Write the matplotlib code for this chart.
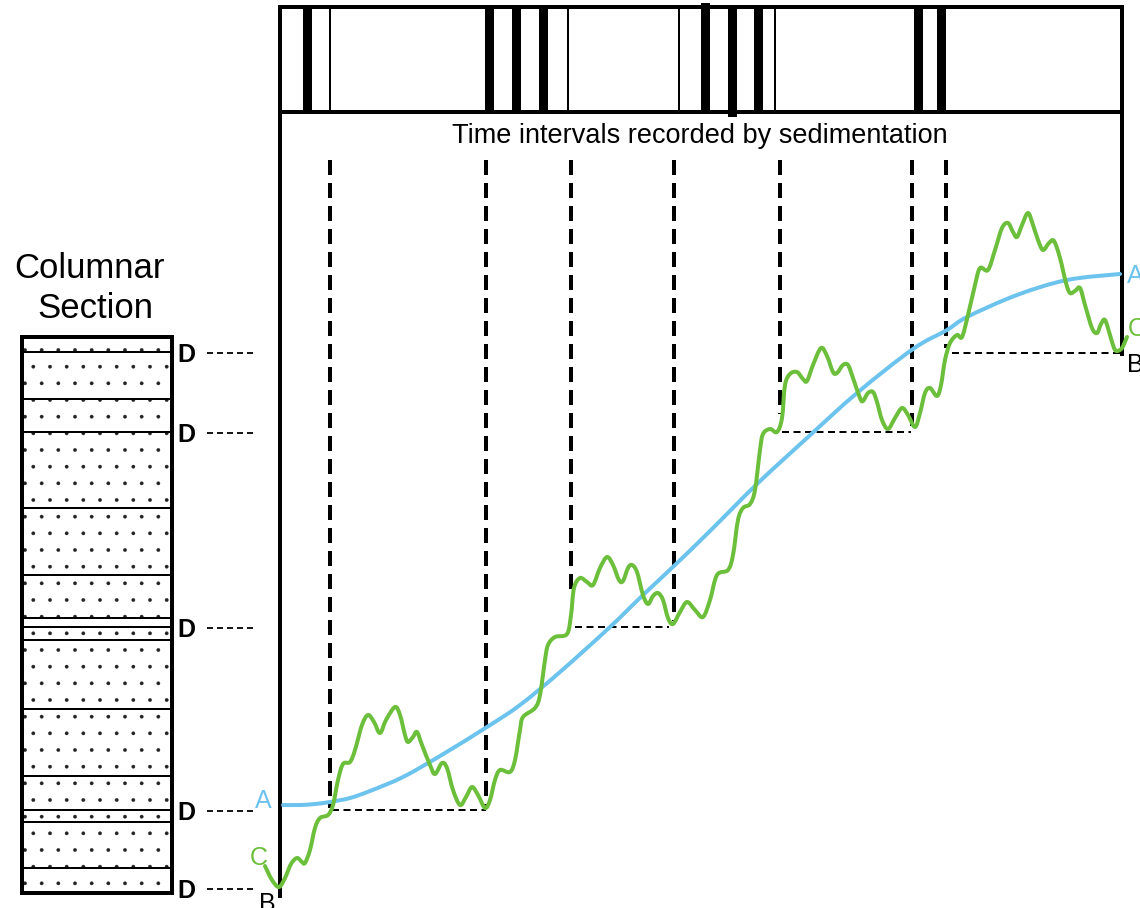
import matplotlib
matplotlib.use("Agg")
import matplotlib.pyplot as plt
from matplotlib.patches import Rectangle, PathPatch
from matplotlib.path import Path

plt.rcParams['font.family'] = ['Liberation Sans', 'DejaVu Sans']
plt.rcParams['hatch.linewidth'] = 0.25

# everything below is in picture pixels (x right, y down)
W, H = 1140, 908
PX = 0.72  # points per pixel at dpi 100

# smooth trend (A) and oscillating record (C)
blue_x = [283, 300, 315, 330, 350, 370, 403, 440, 487, 520, 560, 610, 643,
          675, 710, 757, 807, 857, 913, 947, 967, 1017, 1067, 1120]
blue_y = [805, 805, 804, 802, 798, 791, 777, 756, 727, 705, 672, 627, 595,
          565, 531, 484, 438, 393, 349, 330, 317, 295, 280, 274]

green_x = [265, 272, 279, 285, 291, 297, 302, 305, 310, 315, 320, 328, 333, 338,
           343, 350, 355, 362, 368, 374, 380, 386, 395, 400, 405, 408, 413, 417,
           422, 430, 435, 442, 447, 453, 460, 466, 472, 478, 485, 490, 495, 500,
           510, 515, 520, 523, 535, 540, 545, 548, 555, 567, 571, 574, 580, 587,
           593, 600, 607, 613, 619, 623, 628, 632, 637, 643, 648, 653, 658, 663,
           668, 673, 680, 687, 695, 703, 710, 717, 728, 733, 738, 743, 750, 755,
           760, 763, 770, 777, 782, 785, 790, 797, 803, 807, 813, 821, 827, 833,
           837, 843, 848, 853, 860, 863, 868, 873, 877, 882, 888, 895, 902, 908,
           915, 920, 925, 930, 937, 941, 945, 950, 957, 962, 968, 975, 980, 988,
           995, 1002, 1008, 1013, 1017, 1022, 1028, 1033, 1038, 1043, 1049, 1054,
           1060, 1066, 1070, 1075, 1080, 1085, 1092, 1097, 1101, 1105, 1110, 1114,
           1117, 1122, 1127]
green_y = [866, 880, 887, 878, 864, 858, 862, 863, 850, 828, 818, 815, 805, 780,
           764, 762, 750, 725, 715, 722, 733, 720, 707, 715, 735, 742, 737, 732,
           745, 765, 774, 763, 768, 790, 805, 797, 787, 795, 808, 800, 780, 770,
           772, 760, 730, 717, 708, 695, 660, 645, 637, 634, 615, 588, 578, 582,
           585, 568, 557, 565, 580, 581, 568, 565, 572, 595, 604, 596, 593, 600,
           618, 624, 612, 602, 610, 617, 600, 575, 570, 555, 520, 508, 504, 490,
           450, 434, 429, 432, 418, 385, 374, 372, 379, 381, 365, 348, 356, 372,
           373, 365, 365, 378, 398, 401, 393, 392, 402, 420, 429, 418, 408, 415,
           427, 413, 393, 388, 396, 385, 360, 343, 335, 337, 315, 285, 268, 270,
           250, 228, 223, 232, 237, 225, 213, 225, 240, 250, 243, 241,
           258, 283, 293, 291, 288, 305, 328, 333, 324, 320, 335, 348,
           351, 348, 337]

# time bars in the top strip
bar_x = [307, 330, 489, 516, 543, 568, 679, 705, 732, 758, 775, 918, 941]
bar_thick = [True, False, True, True, True, False, False, True, True, True,
             False, True, True]

# hiatus markers: vertical dashed drops and the flat gaps
drop_x = [330, 486, 571, 674, 780, 912, 946]
drop_bottom = [808, 808, 589, 621, 414, 426, 348]
gap_y = [810, 627, 432, 353]
gap_x0 = [332, 575, 782, 952]
gap_x1 = [486, 669, 911, 1122]

# columnar section
col_lines = [352, 399, 432, 508, 575, 618, 627, 640, 709, 776, 810, 822, 868]
d_levels = [353, 433, 628, 811, 889]

GREEN = '#6bbf3a'
BLUE = '#6cc3ee'


def dash(on_px, off_px, lw_px):
    return (0, (on_px / lw_px, off_px / lw_px))


def smooth_path(xs, ys):
    # bezier path through every point (catmull-rom tangents)
    pts = list(zip(xs, ys))
    verts = [pts[0]]
    codes = [Path.MOVETO]
    n = len(pts)
    for i in range(n - 1):
        p0 = pts[max(i - 1, 0)]
        p1 = pts[i]
        p2 = pts[i + 1]
        p3 = pts[min(i + 2, n - 1)]
        c1 = (p1[0] + (p2[0] - p0[0]) / 6, p1[1] + (p2[1] - p0[1]) / 6)
        c2 = (p2[0] - (p3[0] - p1[0]) / 6, p2[1] - (p3[1] - p1[1]) / 6)
        verts += [c1, c2, p2]
        codes += [Path.CURVE4] * 3
    return Path(verts, codes)


fig = plt.figure(figsize=(W / 100, H / 100), dpi=100)
ax = fig.add_axes([0, 0, 1, 1])
ax.set_xlim(0, W)
ax.set_ylim(H, 0)
ax.axis('off')

# top strip and frame
ax.add_patch(Rectangle((280, 7), 842, 105, fill=False, lw=4 * PX,
                       edgecolor='black', zorder=3))
ax.plot([280, 280], [7, 898], color='black', lw=4 * PX, solid_capstyle='butt')
ax.plot([1122, 1122], [7, 356], color='black', lw=4 * PX, solid_capstyle='butt')
for x, thick in zip(bar_x, bar_thick):
    w = 9 if thick else 2.2
    ax.add_patch(Rectangle((x - w / 2, 7), w, 105, facecolor='black',
                           edgecolor='none', zorder=3))
ax.add_patch(Rectangle((732 - 4.5, 105), 9, 12, facecolor='black',
                       edgecolor='none', zorder=3))
ax.add_patch(Rectangle((705 - 4.5, 3), 9, 6, facecolor='black',
                       edgecolor='none', zorder=3))

ax.text(700, 143, 'Time intervals recorded by sedimentation', fontsize=19.5,
        ha='center', va='baseline')

for x, yb in zip(drop_x, drop_bottom):
    ax.plot([x, x], [160, yb], color='black', lw=4 * PX,
            linestyle=dash(15, 8, 4), dash_capstyle='butt')
for y, x0, x1 in zip(gap_y, gap_x0, gap_x1):
    ax.plot([x0, x1], [y, y], color='black', lw=2 * PX,
            linestyle=dash(7, 4.5, 2), dash_capstyle='butt')

ax.add_patch(PathPatch(smooth_path(blue_x, blue_y), fill=False, edgecolor=BLUE,
                       lw=4 * PX, capstyle='round', joinstyle='round',
                       zorder=4))
ax.add_patch(PathPatch(smooth_path(green_x, green_y), fill=False,
                       edgecolor=GREEN, lw=4 * PX, capstyle='round',
                       joinstyle='round', zorder=5))

ax.text(255, 808, 'A', color=BLUE, fontsize=18, ha='left', va='baseline')
ax.text(250, 865, 'C', color=GREEN, fontsize=18, ha='left', va='baseline')
ax.text(259, 911, 'B', color='black', fontsize=18, ha='left', va='baseline')
ax.text(1127, 283, 'A', color=BLUE, fontsize=18, ha='left', va='baseline')
ax.text(1128, 336, 'C', color=GREEN, fontsize=18, ha='left', va='baseline')
ax.text(1127, 372, 'B', color='black', fontsize=18, ha='left', va='baseline')

# columnar section
ax.text(90, 278, 'Columnar', fontsize=25, ha='center', va='baseline')
ax.text(95, 318, 'Section', fontsize=25, ha='center', va='baseline')
ax.add_patch(Rectangle((22, 337), 150, 556, facecolor='white',
                       edgecolor='#222222', hatch='.', lw=0, zorder=1))
ax.add_patch(Rectangle((22, 337), 150, 556, fill=False, edgecolor='black',
                       lw=4 * PX, zorder=3))
ax.hlines(col_lines, 22, 172, color='black', lw=2 * PX, zorder=2)

for y in d_levels:
    ax.text(177, y + 9, 'D', fontsize=18, fontweight='bold', ha='left',
            va='baseline')
    ax.plot([207, 255], [y, y], color='black', lw=1.8 * PX,
            linestyle=dash(6, 4, 1.8), dash_capstyle='butt')

fig.savefig('out.png', dpi=100)
